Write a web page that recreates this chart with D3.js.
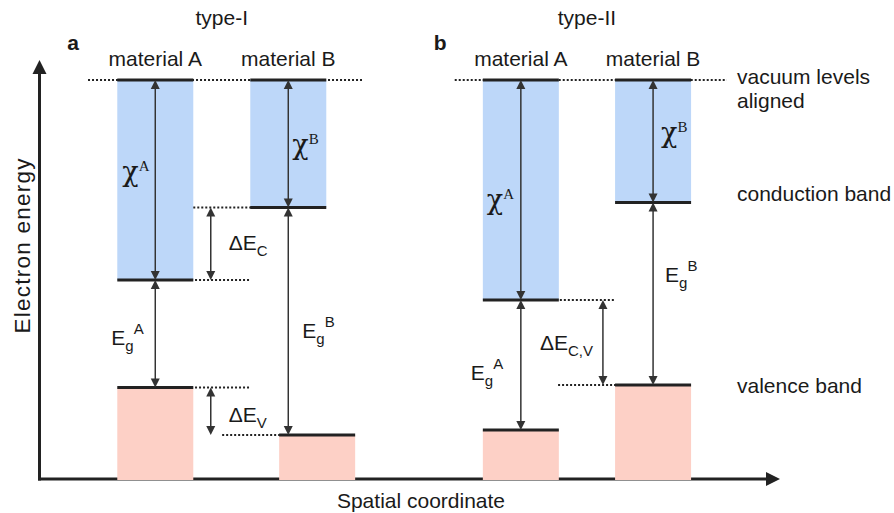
<!DOCTYPE html>
<html>
<head>
<meta charset="utf-8">
<script src="https://cdn.jsdelivr.net/npm/d3@7"></script>
<style>
  html, body { margin: 0; padding: 0; background: #fff; }
  svg { display: block; }
  text { font-family: "Liberation Sans", Arial, Helvetica, sans-serif; fill: #1a1a1a; }
</style>
</head>
<body>
<svg id="chart" width="894" height="513"></svg>
<script>
// Band alignment of two semiconductors (energies in eV, vacuum level = 0)
const panels = ["a", "b"];
const panelTitles = ["type-I", "type-II"];
const materials = ["material A", "material B"];
const vacuumLevel = 0;
const conductionA = [-4.0, -4.4];
const valenceA = [-6.15, -7.0];
const conductionB = [-2.55, -2.45];
const valenceB = [-7.1, -6.1];
const energyFloor = -8;
const sideLabels = ["vacuum levels", "aligned", "conduction band", "valence band"];
const axisTitles = ["Electron energy", "Spatial coordinate"];

// Spatial placement (units of one bar width)
const layout = [
  { barA: 1.03, barBcond: 2.78, barBval: 3.16, offsetArrow: 2.26,
    vacuumDots: [0.645, 4.25],
    dots: [
      { e: "cB", x0: 2.03, x1: 3.0 },
      { e: "cA", x0: 1.79, x1: 2.78 },
      { e: "vA", x0: 1.79, x1: 2.78 },
      { e: "vB", x0: 2.41, x1: 3.3 }
    ] },
  { barA: 5.84, barBcond: 7.58, barBval: 7.58, offsetArrow: 7.42,
    vacuumDots: [5.47, 9.05],
    dots: [
      { e: "cA", x0: 6.59, x1: 7.58 },
      { e: "vB", x0: 6.83, x1: 7.82 }
    ] }
];
const barWidth = 1.0;

const svg = d3.select("#chart");
const x = d3.scaleLinear().domain([0, 9.75]).range([39, 780]);
const y = d3.scaleLinear().domain([0, -8]).range([80, 480]);

const blue = "#bdd7f9";
const pink = "#fdd0c6";
const ink = "#222";
const arrowInk = "#333";
const chiFont = '"DejaVu Serif", "Liberation Serif", serif';
const serif = '"Liberation Serif", "Times New Roman", serif';
const FS = 21;

// Axes with arrowheads
const axisY = y(energyFloor) - 1;
svg.append("line").attr("x1", x(0) + 0.5).attr("x2", x(0) + 0.5)
  .attr("y1", 70).attr("y2", axisY + 1.5)
  .attr("stroke", ink).attr("stroke-width", 3);
svg.append("path")
  .attr("d", `M${x(0) + 0.5},60 L${x(0) + 7.5},74 L${x(0) - 6.5},74 Z`)
  .attr("fill", ink);
svg.append("line").attr("x1", x(0) - 1).attr("x2", x(9.75) - 10)
  .attr("y1", axisY).attr("y2", axisY)
  .attr("stroke", ink).attr("stroke-width", 3);
svg.append("path")
  .attr("d", `M${x(9.75)},${axisY} L${x(9.75) - 14},${axisY - 7} L${x(9.75) - 14},${axisY + 7} Z`)
  .attr("fill", ink);

svg.append("text").attr("transform", "translate(30,246) rotate(-90)")
  .attr("text-anchor", "middle").attr("font-size", 22.5)
  .attr("textLength", 175).attr("lengthAdjust", "spacing").text(axisTitles[0]);
svg.append("text").attr("x", 421).attr("y", 508)
  .attr("text-anchor", "middle").attr("font-size", FS).text(axisTitles[1]);

function arrowHead(g, px, py, dir) {
  // dir = -1 points up, +1 points down
  g.append("path")
    .attr("d", `M${px},${py} L${px - 4.5},${py - dir * 9} L${px + 4.5},${py - dir * 9} Z`)
    .attr("fill", arrowInk);
}
function doubleArrow(g, ux, eTop, eBot) {
  const px = x(ux), y0 = y(eTop), y1 = y(eBot);
  g.append("line").attr("x1", px).attr("x2", px).attr("y1", y0 + 6).attr("y2", y1 - 6)
    .attr("stroke", arrowInk).attr("stroke-width", 1.5);
  arrowHead(g, px, y0, -1);
  arrowHead(g, px, y1, 1);
  return { x: px, mid: (y0 + y1) / 2 };
}
function dotted(g, u0, u1, e) {
  g.append("line").attr("x1", x(u0)).attr("x2", x(u1))
    .attr("y1", y(e)).attr("y2", y(e))
    .attr("stroke", ink).attr("stroke-width", 2).attr("stroke-dasharray", "2,2");
}
function edge(g, u0, e) {
  g.append("line").attr("x1", x(u0)).attr("x2", x(u0 + barWidth))
    .attr("y1", y(e)).attr("y2", y(e))
    .attr("stroke", ink).attr("stroke-width", 3);
}
// Label built from a main symbol with optional sub- and superscript
function symbolLabel(g, px, py, lab) {
  const t = g.append("text").attr("x", px).attr("y", py);
  if (lab.chi) {
    t.append("tspan").style("font-family", chiFont).attr("font-size", 27).text(lab.main);
    t.append("tspan").style("font-family", serif).attr("font-size", 15).attr("dx", 0).attr("dy", -10).text(lab.sup);
    return;
  }
  t.append("tspan").attr("font-size", FS).text(lab.main);
  if (lab.sub) t.append("tspan").attr("font-size", 15).attr("dy", 6).text(lab.sub);
  if (lab.sup) t.append("tspan").attr("font-size", 15)
    .attr("dy", lab.sub ? -17 : -9).text(lab.sup);
}

const edges = i => ({ cA: conductionA[i], vA: valenceA[i], cB: conductionB[i], vB: valenceB[i] });

panels.forEach((p, i) => {
  const L = layout[i];
  const E = edges(i);
  const g = svg.append("g");

  // band regions
  g.append("rect").attr("x", x(L.barA)).attr("width", x(barWidth) - x(0))
    .attr("y", y(vacuumLevel)).attr("height", y(E.cA) - y(vacuumLevel)).attr("fill", blue);
  g.append("rect").attr("x", x(L.barBcond)).attr("width", x(barWidth) - x(0))
    .attr("y", y(vacuumLevel)).attr("height", y(E.cB) - y(vacuumLevel)).attr("fill", blue);
  g.append("rect").attr("x", x(L.barA)).attr("width", x(barWidth) - x(0))
    .attr("y", y(E.vA)).attr("height", y(energyFloor) - y(E.vA)).attr("fill", pink);
  g.append("rect").attr("x", x(L.barBval)).attr("width", x(barWidth) - x(0))
    .attr("y", y(E.vB)).attr("height", y(energyFloor) - y(E.vB)).attr("fill", pink);

  // dotted reference lines
  dotted(g, L.vacuumDots[0], L.vacuumDots[1], vacuumLevel);
  L.dots.forEach(d => dotted(g, d.x0, d.x1, E[d.e]));

  // band edges
  edge(g, L.barA, vacuumLevel);
  edge(g, L.barBcond, vacuumLevel);
  edge(g, L.barA, E.cA);
  edge(g, L.barA, E.vA);
  edge(g, L.barBcond, E.cB);
  edge(g, L.barBval, E.vB);

  // arrows and their labels
  const cAx = L.barA + barWidth / 2, cBx = L.barBcond + barWidth / 2;
  const arrows = [
    { a: doubleArrow(g, cAx, vacuumLevel, E.cA), lab: { chi: true, main: "χ", sup: "A" } },
    { a: doubleArrow(g, cAx, E.cA, E.vA), lab: { main: "E", sub: "g", sup: "A" } },
    { a: doubleArrow(g, cBx, vacuumLevel, E.cB), lab: { chi: true, main: "χ", sup: "B" } },
    { a: doubleArrow(g, cBx, E.cB, E.vB), lab: { main: "E", sub: "g", sup: "B" } }
  ];
  if (i === 0) {
    arrows.push({ a: doubleArrow(g, L.offsetArrow, E.cB, E.cA), lab: { main: "ΔE", sub: "C" } });
    arrows.push({ a: doubleArrow(g, L.offsetArrow, E.vA, E.vB), lab: { main: "ΔE", sub: "V" } });
  } else {
    arrows.push({ a: doubleArrow(g, L.offsetArrow, E.cA, E.vB), lab: { main: "ΔE", sub: "C,V" } });
  }
  const offsets = i === 0
    ? [[-33, 1], [-44, 11], [4, 10], [14, 17], [18, 6], [18, 11]]
    : [[-34, 19], [-50, 15], [8, 1], [12, -12], [-63, 7.5]];
  arrows.forEach((d, k) => symbolLabel(g, d.a.x + offsets[k][0], d.a.mid + offsets[k][1], d.lab));

  // headings
  g.append("text").attr("x", (x(L.barA) + x(L.barBcond + barWidth)) / 2).attr("y", 25)
    .attr("text-anchor", "middle").attr("font-size", FS).text(panelTitles[i]);
  g.append("text").attr("x", x(L.barA) - 50 + (i === 0 ? 0 : 1)).attr("y", 50)
    .attr("font-size", FS).attr("font-weight", "bold").text(p);
  g.append("text").attr("x", x(cAx)).attr("y", 66)
    .attr("text-anchor", "middle").attr("font-size", FS).text(materials[0]);
  g.append("text").attr("x", x(cBx)).attr("y", 66)
    .attr("text-anchor", "middle").attr("font-size", FS).text(materials[1]);
});

// band names on the right, level with panel b edges
const sideY = [y(vacuumLevel) + 4, y(vacuumLevel) + 28, y(conductionB[1]) - 2, y(valenceB[1]) + 8];
sideLabels.forEach((s, k) => {
  svg.append("text").attr("x", 737).attr("y", sideY[k]).attr("font-size", FS).text(s);
});
</script>
</body>
</html>
